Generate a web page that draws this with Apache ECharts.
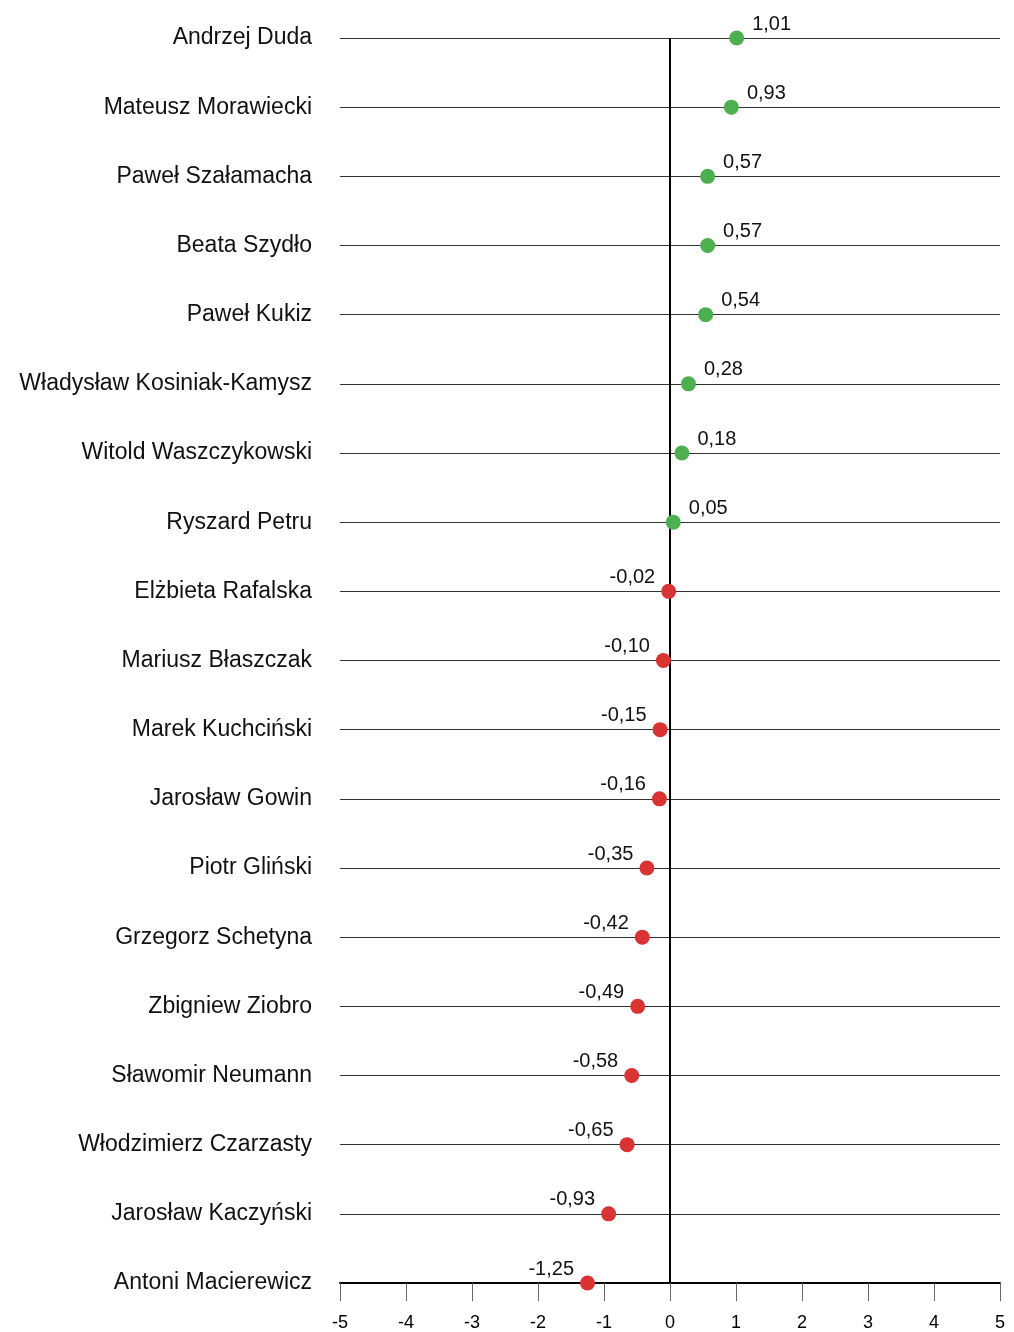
<!DOCTYPE html>
<html>
<head>
<meta charset="utf-8">
<script src="https://cdn.jsdelivr.net/npm/echarts@6/dist/echarts.min.js"></script>
<style>html,body{margin:0;padding:0;background:#fff}#c{width:1014px;height:1332px}</style>
</head>
<body>
<div id="c"></div>
<script>
const names = ["Andrzej Duda","Mateusz Morawiecki","Paweł Szałamacha","Beata Szydło","Paweł Kukiz","Władysław Kosiniak-Kamysz","Witold Waszczykowski","Ryszard Petru","Elżbieta Rafalska","Mariusz Błaszczak","Marek Kuchciński","Jarosław Gowin","Piotr Gliński","Grzegorz Schetyna","Zbigniew Ziobro","Sławomir Neumann","Włodzimierz Czarzasty","Jarosław Kaczyński","Antoni Macierewicz"];
const values = [1.01,0.93,0.57,0.57,0.54,0.28,0.18,0.05,-0.02,-0.10,-0.15,-0.16,-0.35,-0.42,-0.49,-0.58,-0.65,-0.93,-1.25];
const xTicks = [-5,-4,-3,-2,-1,0,1,2,3,4,5];

const FONT = "'Liberation Sans', Arial, sans-serif";
const GREEN = '#4CAF50', RED = '#D93333';
const data = values.map((v, i) => ({
  value: [v, names[i]],
  itemStyle: { color: v >= 0 ? GREEN : RED, opacity: 1 },
  label: v >= 0
    ? { position: 'right', distance: 8, offset: [0, -14] }
    : { position: 'left', distance: 6, offset: [0, -14] }
}));

const chart = echarts.init(document.getElementById('c'), null, { renderer: 'canvas' });
chart.setOption({
  backgroundColor: '#fff',
  animation: false,
  textStyle: { fontFamily: FONT },
  grid: { left: 340, right: 14, top: 38, bottom: 48, containLabel: false },
  xAxis: {
    type: 'value', min: xTicks[0], max: xTicks[xTicks.length - 1], interval: 1,
    axisLine: { show: true, onZero: false, lineStyle: { color: '#000', width: 2 } },
    axisTick: { show: true, length: 18, lineStyle: { color: '#666', width: 1 } },
    axisLabel: { margin: 31, fontSize: 18, color: '#000', fontFamily: FONT },
    splitLine: { show: false }
  },
  yAxis: {
    type: 'category', data: names, inverse: true, boundaryGap: false,
    axisLine: { show: false },
    axisTick: { show: false },
    axisLabel: { margin: 28, fontSize: 23, color: '#111', fontFamily: FONT, padding: [8, 0, 0, 0] },
    splitLine: { show: true, lineStyle: { color: '#333', width: 1 } }
  },
  series: [{
    type: 'scatter',
    symbol: 'circle',
    symbolSize: 15,
    data: data,
    z: 5,
    itemStyle: { opacity: 1 },
    label: {
      show: true, fontSize: 20, color: '#111', fontFamily: FONT,
      formatter: p => p.value[0].toFixed(2).replace('.', ',')
    },
    markLine: {
      silent: true, symbol: ['none', 'none'], label: { show: false },
      lineStyle: { color: '#000', width: 2, type: 'solid', opacity: 1 },
      data: [{ xAxis: 0 }],
      z: 3
    }
  }]
});
</script>
</body>
</html>
